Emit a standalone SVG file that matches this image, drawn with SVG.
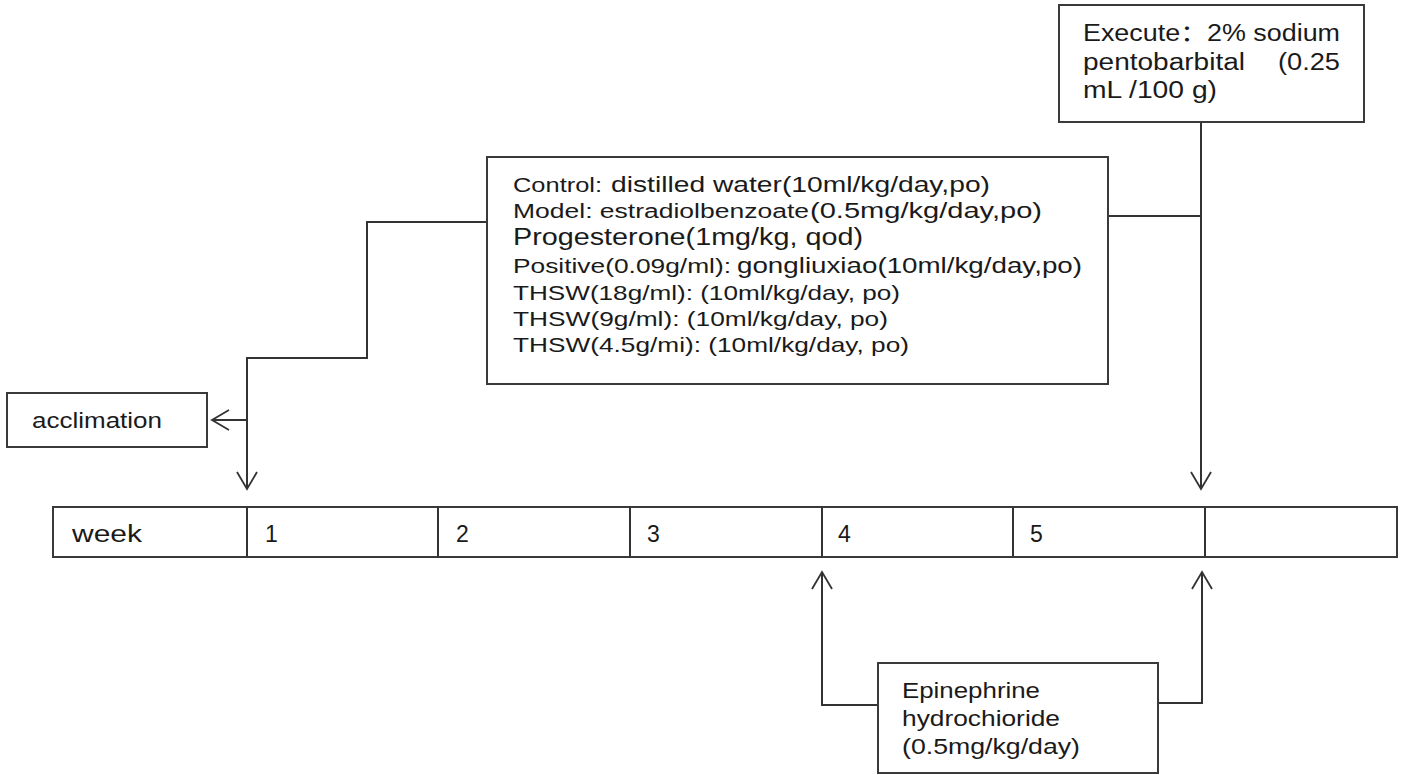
<svg xmlns="http://www.w3.org/2000/svg" width="1404" height="775" viewBox="0 0 1404 775">
<defs>
<marker id="arr" viewBox="-20 -12 22 24" refX="0" refY="0" markerWidth="22" markerHeight="24" markerUnits="userSpaceOnUse" orient="auto">
<path d="M-17,-10 L0,0 L-17,10" fill="none" stroke="#333" stroke-width="1.8"/>
</marker>
</defs>
<style>
.box{fill:#fff;stroke:#3a3a3a;stroke-width:2}
.ln{fill:none;stroke:#333;stroke-width:2}
text{font-family:"Liberation Sans",Arial,"Noto Sans CJK SC",sans-serif;fill:#1a1a1a}
.s{font-size:20px}
.l{font-size:22px}
.xl{font-size:23px}
.m{font-size:21px}
</style>
<rect width="1404" height="775" fill="#fff"/>

<g id="connectors">
<path class="ln" d="M487,222 H367 V358 H247 V489" marker-end="url(#arr)"/>
<path class="ln" d="M247,420 H212" marker-end="url(#arr)"/>
<path class="ln" d="M1108,216 H1201"/>
<path class="ln" d="M1201,122 V489" marker-end="url(#arr)"/>
<path class="ln" d="M878,705 H822 V572" marker-end="url(#arr)"/>
<path class="ln" d="M1158,703 H1202 V572" marker-end="url(#arr)"/>
</g>

<g id="execute">
<rect class="box" x="1059" y="5" width="305" height="117"/>
<text class="xl" x="1083" y="41" textLength="257" lengthAdjust="spacingAndGlyphs">Execute：2% sodium</text>
<text class="xl" x="1083" y="70" textLength="162" lengthAdjust="spacingAndGlyphs">pentobarbital</text>
<text class="xl" x="1278" y="70" textLength="62" lengthAdjust="spacingAndGlyphs">(0.25</text>
<text class="xl" x="1083" y="98" textLength="134" lengthAdjust="spacingAndGlyphs">mL /100 g)</text>
</g>

<g id="treatment">
<rect class="box" x="487" y="157" width="621" height="227"/>
<text class="s" x="513" y="192" textLength="89" lengthAdjust="spacingAndGlyphs">Control:</text>
<text class="l" x="611" y="192" textLength="379" lengthAdjust="spacingAndGlyphs">distilled water(10ml/kg/day,po)</text>
<text class="s" x="513" y="218" textLength="296" lengthAdjust="spacingAndGlyphs">Model: estradiolbenzoate</text>
<text class="l" x="810" y="218" textLength="232" lengthAdjust="spacingAndGlyphs">(0.5mg/kg/day,po)</text>
<text class="xl" x="513" y="245" textLength="350" lengthAdjust="spacingAndGlyphs">Progesterone(1mg/kg, qod)</text>
<text class="s" x="513" y="273" textLength="218" lengthAdjust="spacingAndGlyphs">Positive(0.09g/ml):</text>
<text class="l" x="737" y="273" textLength="345" lengthAdjust="spacingAndGlyphs">gongliuxiao(10ml/kg/day,po)</text>
<text class="m" x="513" y="300" textLength="387" lengthAdjust="spacingAndGlyphs">THSW(18g/ml): (10ml/kg/day, po)</text>
<text class="m" x="513" y="326" textLength="375" lengthAdjust="spacingAndGlyphs">THSW(9g/ml): (10ml/kg/day, po)</text>
<text class="m" x="513" y="352" textLength="396" lengthAdjust="spacingAndGlyphs">THSW(4.5g/mi): (10ml/kg/day, po)</text>
</g>

<g id="acclimation">
<rect class="box" x="7" y="393" width="200" height="54"/>
<text class="l" x="32" y="428" textLength="130" lengthAdjust="spacingAndGlyphs">acclimation</text>
</g>

<g id="timeline">
<rect class="box" x="53" y="507" width="1344" height="50"/>
<path class="ln" d="M247,507 V557 M438,507 V557 M630,507 V557 M822,507 V557 M1013,507 V557 M1205,507 V557"/>
<text class="xl" x="72" y="542" textLength="70" lengthAdjust="spacingAndGlyphs">week</text>
<text class="xl" x="265" y="542">1</text>
<text class="xl" x="456" y="542">2</text>
<text class="xl" x="647" y="542">3</text>
<text class="xl" x="838" y="542">4</text>
<text class="xl" x="1030" y="542">5</text>
</g>

<g id="epinephrine">
<rect class="box" x="878" y="663" width="280" height="110"/>
<text class="l" x="902" y="698" textLength="138" lengthAdjust="spacingAndGlyphs">Epinephrine</text>
<text class="l" x="902" y="726" textLength="158" lengthAdjust="spacingAndGlyphs">hydrochioride</text>
<text class="l" x="902" y="754" textLength="178" lengthAdjust="spacingAndGlyphs">(0.5mg/kg/day)</text>
</g>
</svg>
